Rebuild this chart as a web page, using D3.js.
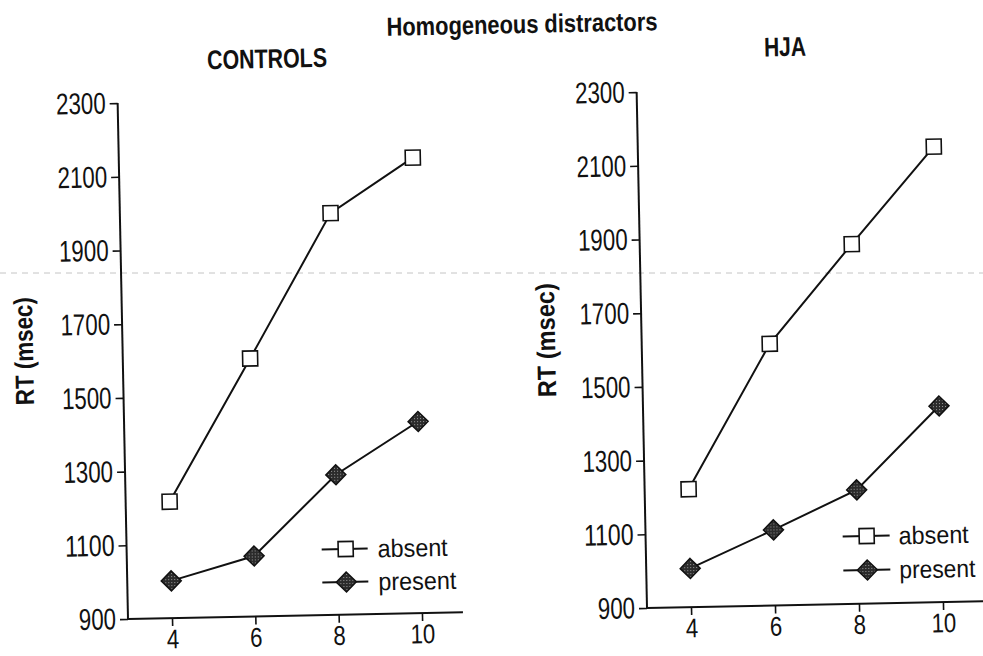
<!DOCTYPE html>
<html>
<head>
<meta charset="utf-8">
<script src="https://cdn.jsdelivr.net/npm/d3@7"></script>
<style>
  html, body { margin: 0; padding: 0; background: #fff; }
  svg { display: block; }
</style>
</head>
<body>
<svg id="chart" width="983" height="656"></svg>
<script>
// ---- Data ----
const setSizes = [4, 6, 8, 10];
const yTicks = [900, 1100, 1300, 1500, 1700, 1900, 2100, 2300];
const seriesNames = ["absent", "present"];
const controlsAbsent = [1216, 1600, 1990, 2136];
const controlsPresent = [1001, 1064, 1280, 1420];
const hjaAbsent = [1220, 1610, 1876, 2136];
const hjaPresent = [1005, 1105, 1209, 1432];
const panelTitles = ["CONTROLS", "HJA"];
const mainTitle = "Homogeneous distractors";
const yLabel = "RT (msec)";

const svg = d3.select("#chart");
const font = '"Liberation Sans", Arial, Helvetica, sans-serif';
const charW = 12.4;   // condensed digit width
const skew = -1.15;   // slight rotation of the scanned page

// stipple pattern for the filled diamonds
const defs = svg.append("defs");
const pat = defs.append("pattern").attr("id", "stip").attr("width", 3).attr("height", 3)
  .attr("patternUnits", "userSpaceOnUse");
pat.append("rect").attr("width", 3).attr("height", 3).attr("fill", "#2b2b2b");
pat.append("rect").attr("x", 1).attr("y", 1).attr("width", 1).attr("height", 1).attr("fill", "#9a9a9a");

// scan artefact: faint dashed line
svg.append("line").attr("x1", 0).attr("x2", 983).attr("y1", 273).attr("y2", 273)
  .attr("stroke", "#c4c4c4").attr("stroke-width", 1).attr("stroke-dasharray", "6,5");

// main title
svg.append("text").attr("x", 522).attr("y", 33).attr("text-anchor", "middle")
  .attr("transform", `rotate(${skew},522,25)`)
  .attr("font-family", font).attr("font-weight", "bold").attr("font-size", 26)
  .attr("textLength", 271).attr("lengthAdjust", "spacingAndGlyphs")
  .attr("fill", "#111").text(mainTitle);

const panels = [
  { title: panelTitles[0], titleX: 267, titleY: 68, titleW: 120,
    absent: controlsAbsent, present: controlsPresent,
    corner: [128, 619], x4: 172, x10: 422, xEnd: 463, top: 103,
    labelX: 23, labelY: 351, labelW: 108,
    legend: { x1: 322, x2: 368, cx: 346, yA: 549, yP: 582, tx: 378, wA: 70, wP: 78 } },
  { title: panelTitles[1], titleX: 785, titleY: 56, titleW: 42,
    absent: hjaAbsent, present: hjaPresent,
    corner: [647, 608], x4: 691, x10: 943, xEnd: 990, top: 92,
    labelX: 545, labelY: 340, labelW: 114,
    legend: { x1: 843, x2: 890, cx: 867, yA: 536, yP: 570, tx: 899, wA: 70, wP: 76 } }
];

const diamond = (cx, cy) => `M${cx},${cy - 10}L${cx + 10},${cy}L${cx},${cy + 10}L${cx - 10},${cy}Z`;

panels.forEach(p => {
  const [cx0, cy0] = p.corner;
  const x = d3.scaleLinear().domain([4, 10]).range([p.x4, p.x10]);
  const y = d3.scaleLinear().domain([900, 2300]).range([cy0, p.top]);

  // titles
  svg.append("text").attr("x", p.titleX).attr("y", p.titleY).attr("text-anchor", "middle")
    .attr("transform", `rotate(${skew},${p.titleX},${p.titleY - 9})`)
    .attr("font-family", font).attr("font-weight", "bold").attr("font-size", 27)
    .attr("textLength", p.titleW).attr("lengthAdjust", "spacingAndGlyphs")
    .attr("fill", "#111").text(p.title);

  // y label
  svg.append("text").attr("transform", `translate(${p.labelX + 10},${p.labelY}) rotate(${-90 + skew})`)
    .attr("text-anchor", "middle").attr("font-family", font).attr("font-weight", "bold")
    .attr("font-size", 26).attr("textLength", p.labelW).attr("lengthAdjust", "spacingAndGlyphs")
    .attr("fill", "#111").text(yLabel);

  const g = svg.append("g").attr("transform", `rotate(${skew},${cx0},${cy0})`);

  // axes
  const yAxis = g.append("g").attr("transform", `translate(${cx0},0)`)
    .call(d3.axisLeft(y).tickValues(yTicks).tickFormat(d3.format("d")).tickSize(8).tickPadding(4).tickSizeOuter(0));
  const xAxis = g.append("g").attr("transform", `translate(0,${cy0})`)
    .call(d3.axisBottom(x).tickValues(setSizes).tickFormat(d3.format("d")).tickSize(8).tickPadding(3).tickSizeOuter(0));
  [[yAxis, 30], [xAxis, 27]].forEach(([a, fs]) => {
    a.select(".domain").attr("stroke", "#111").attr("stroke-width", 2);
    a.selectAll(".tick line").attr("stroke", "#111").attr("stroke-width", 1.6);
    a.selectAll(".tick text").attr("font-family", font).attr("font-size", fs).attr("fill", "#111")
      .attr("textLength", function () { return this.textContent.length * charW; })
      .attr("lengthAdjust", "spacingAndGlyphs");
  });
  yAxis.select(".domain").attr("d", `M0,${cy0}V${p.top}`);
  xAxis.select(".domain").attr("d", `M${cx0},0H${p.xEnd}`);

  const line = d3.line().x((d, i) => x(setSizes[i])).y(d => y(d));

  g.append("path").datum(p.present).attr("d", line).attr("fill", "none")
    .attr("stroke", "#111").attr("stroke-width", 2);
  g.append("path").datum(p.absent).attr("d", line).attr("fill", "none")
    .attr("stroke", "#111").attr("stroke-width", 2);

  g.selectAll(".dia").data(p.present).enter().append("path").attr("class", "dia")
    .attr("d", (d, i) => diamond(x(setSizes[i]), y(d)))
    .attr("fill", "url(#stip)").attr("stroke", "#111").attr("stroke-width", 1.5);

  g.selectAll(".sq").data(p.absent).enter().append("rect").attr("class", "sq")
    .attr("x", (d, i) => x(setSizes[i]) - 7.5).attr("y", d => y(d) - 7.5)
    .attr("width", 15).attr("height", 15)
    .attr("fill", "#fff").attr("stroke", "#111").attr("stroke-width", 1.6);

  // legend (positioned in page coordinates, tilted like the scan)
  const L = p.legend;
  const lg = svg.append("g").attr("transform", `rotate(${skew},${L.cx},${(L.yA + L.yP) / 2})`);
  [L.yA, L.yP].forEach((ly, k) => {
    lg.append("line").attr("x1", L.x1).attr("x2", L.x2).attr("y1", ly).attr("y2", ly)
      .attr("stroke", "#111").attr("stroke-width", 2);
    if (k === 0) {
      lg.append("rect").attr("x", L.cx - 7.5).attr("y", ly - 7.5).attr("width", 15).attr("height", 15)
        .attr("fill", "#fff").attr("stroke", "#111").attr("stroke-width", 1.6);
    } else {
      lg.append("path").attr("d", diamond(L.cx, ly)).attr("fill", "url(#stip)")
        .attr("stroke", "#111").attr("stroke-width", 1.5);
    }
    lg.append("text").attr("x", L.tx).attr("y", ly + 9).attr("font-family", font)
      .attr("font-size", 25).attr("textLength", k === 0 ? L.wA : L.wP)
      .attr("lengthAdjust", "spacingAndGlyphs")
      .attr("fill", "#111").text(seriesNames[k]);
  });
});
</script>
</body>
</html>
